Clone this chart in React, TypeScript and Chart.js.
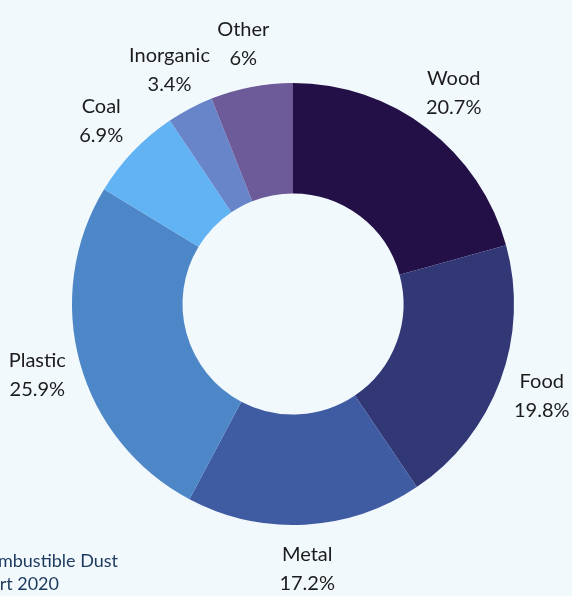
import React, { useEffect, useRef } from "react";
import { Chart, registerables } from "chart.js";

Chart.register(...registerables);

const categories = ["Wood", "Food", "Metal", "Plastic", "Coal", "Inorganic", "Other"];
const values = [20.7, 19.8, 17.2, 25.9, 6.9, 3.4, 6];
const valueLabels = ["20.7%", "19.8%", "17.2%", "25.9%", "6.9%", "3.4%", "6%"];
const colors = ["#221047", "#323776", "#3f5ca3", "#4e87c8", "#62b3f3", "#6885c9", "#6c5a99"];
const sourceLines = ["Source: Combustible Dust", "Report 2020"];

const BG = "#f2f9fc";

const bgPlugin = {
  id: "bgFill",
  beforeDraw(chart: any) {
    const { ctx, width, height } = chart;
    ctx.save();
    ctx.fillStyle = BG;
    ctx.fillRect(0, 0, width, height);
    ctx.restore();
  },
};

const labelPlugin = {
  id: "sliceLabels",
  afterDatasetsDraw(chart: any) {
    const { ctx } = chart;
    const meta = chart.getDatasetMeta(0);
    ctx.save();
    ctx.font = "20px Lato";
    ctx.fillStyle = "#1c1c1c";
    ctx.textAlign = "center";
    ctx.textBaseline = "middle";
    meta.data.forEach((arc: any, i: number) => {
      const mid = (arc.startAngle + arc.endAngle) / 2;
      const r = arc.outerRadius * 1.2;
      const x = arc.x + Math.cos(mid) * r;
      const y = arc.y + Math.sin(mid) * r;
      ctx.fillText(categories[i], x, y - 14);
      ctx.fillText(valueLabels[i], x, y + 15);
    });
    // source note
    ctx.font = "18px Lato";
    ctx.fillStyle = "#1c3a5e";
    ctx.textAlign = "right";
    ctx.textBaseline = "alphabetic";
    ctx.fillText(sourceLines[0], 118, 567);
    ctx.fillText(sourceLines[1], 59, 590);
    ctx.restore();
  },
};

export default function App() {
  const ref = useRef<HTMLCanvasElement>(null);
  useEffect(() => {
    document.body.style.margin = "0";
    document.body.style.background = BG;
    const chart = new Chart(ref.current as HTMLCanvasElement, {
      type: "doughnut",
      data: {
        labels: categories,
        datasets: [
          {
            data: values,
            backgroundColor: colors,
            borderWidth: 0,
          },
        ],
      },
      options: {
        responsive: false,
        animation: false,
        cutout: "50%",
        layout: { padding: { left: 72, right: 58, top: 83, bottom: 71 } },
        plugins: {
          legend: { display: false },
          tooltip: { enabled: false },
        },
      },
      plugins: [bgPlugin, labelPlugin],
    });
    return () => chart.destroy();
  }, []);
  return (
    <div style={{ width: 572, height: 596, background: BG }}>
      <canvas ref={ref} width={572} height={596} style={{ display: "block" }} />
    </div>
  );
}
